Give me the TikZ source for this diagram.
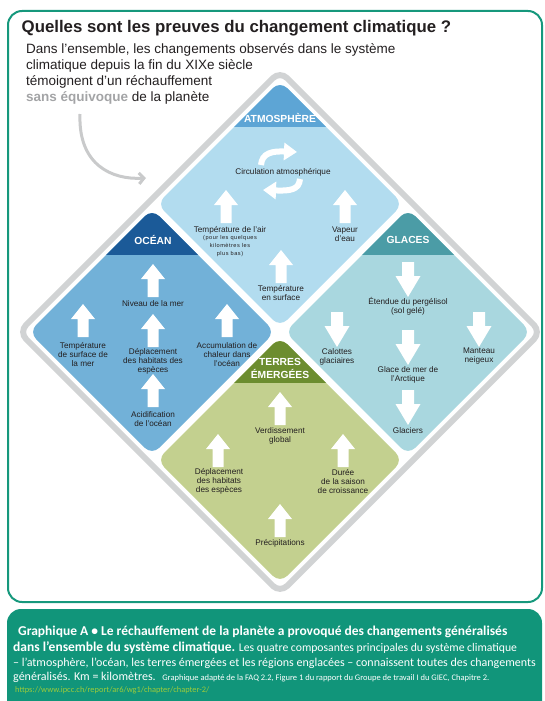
\documentclass[tikz,border=0pt]{standalone}
\usepackage{fontspec}
\setmainfont{Liberation Sans}
\newfontfamily\capfont{Carlito}
\newfontfamily\spacedfont[LetterSpace=9]{Liberation Sans}
\usetikzlibrary{arrows.meta}
\definecolor{frame}{HTML}{16987C}
\definecolor{capfill}{HTML}{11957A}
\definecolor{atmB}{HTML}{B2DCEF}
\definecolor{atmH}{HTML}{5DA5D5}
\definecolor{ocnB}{HTML}{72B1D8}
\definecolor{ocnH}{HTML}{1B5A98}
\definecolor{glaB}{HTML}{A9D7DF}
\definecolor{glaH}{HTML}{4B9CA6}
\definecolor{terB}{HTML}{C3D08F}
\definecolor{terH}{HTML}{6C8D2F}
\definecolor{greyband}{HTML}{D1D3D4}
\definecolor{greyarrow}{HTML}{C9CACB}
\definecolor{greytxt}{HTML}{A3A4A6}
\definecolor{txt}{HTML}{231F20}
\definecolor{urlc}{HTML}{9CCB3B}
\tikzset{
  lbl/.style={font=\fontsize{8.2}{9}\selectfont, text=txt, align=center, inner sep=0pt},
  tiny/.style={font=\spacedfont\fontsize{5.6}{8}\selectfont, text=txt, align=center, inner sep=0pt},
  hdr/.style={font=\bfseries\fontsize{10.3}{13}\selectfont, text=white, align=center, inner sep=0pt},
  capline/.style={font=\capfont\fontsize{12}{14}\selectfont, text=white, anchor=west, inner sep=0pt},
  subline/.style={font=\fontsize{13.5}{16}\selectfont, text=txt, anchor=west, inner sep=0pt},
  uparr/.pic={\fill[white] (-5.5,0) -- (-5.5,-18) -- (-12,-18) -- (0,-33) -- (12,-18) -- (5.5,-18) -- (5.5,0) -- cycle;},
  downarr/.pic={\fill[white] (-6,0) -- (-6,14) -- (-12.5,14) -- (0,35) -- (12.5,14) -- (6,14) -- (6,0) -- cycle;},
}
\begin{document}
\begin{tikzpicture}[x=1pt,y=-1pt]
\useasboundingbox (0,0) rectangle (544,701);
\clip (0,0) rectangle (544,701);
% frame
\draw[frame, line width=2pt, rounded corners=14pt] (8,11) rectangle (542,602);
\fill[capfill, rounded corners=14pt] (7,609) rectangle (542,730);
% title and subtitle
\node[anchor=west, inner sep=0pt, font=\bfseries\fontsize{16.8}{19}\selectfont, text=txt] (title) at (21.5,28) {Quelles sont les preuves du changement climatique ?};
\node[subline] (s1) at (26,50) {Dans l'ensemble, les changements observés dans le système};
\node[subline] (s2) at (26,66) {climatique depuis la fin du XIXe siècle};
\node[subline] (s3) at (26,82) {témoignent d'un réchauffement};
\node[subline] (s4) at (26,98) {{\bfseries\color{greytxt}sans équivoque} de la planète};
% grey outline
\draw[greyband, line width=6pt, rounded corners=10pt] (280,71) -- (541,332) -- (280,593) -- (19,332) -- cycle;
% curved grey arrow
\coordinate (ga1) at (80,114);
\coordinate (ga2) at (146,178);
\draw[greyarrow, line width=3pt, -{Straight Barb[length=5pt,width=11pt]}] (ga1) .. controls (78,165) and (112,180) .. (ga2);
% Atmosphere
\begin{scope}
\clip[rounded corners=10pt] (280,81) -- (403,204) -- (280,327) -- (157,204) -- cycle;
\fill[atmB] (150,75) rectangle (410,330);
\fill[atmH] (150,75) rectangle (410,127);
\end{scope}
% Ocean
\begin{scope}
\clip[rounded corners=10pt] (152,209) -- (275,332) -- (152,455) -- (29,332) -- cycle;
\fill[ocnB] (20,200) rectangle (280,460);
\fill[ocnH] (20,200) rectangle (280,255);
\end{scope}
% Glaces
\begin{scope}
\clip[rounded corners=10pt] (408,209) -- (531,332) -- (408,455) -- (285,332) -- cycle;
\fill[glaB] (280,200) rectangle (540,460);
\fill[glaH] (280,200) rectangle (540,255);
\end{scope}
% Terres
\begin{scope}
\clip[rounded corners=10pt] (280,337) -- (403,460) -- (280,583) -- (157,460) -- cycle;
\fill[terB] (150,330) rectangle (410,590);
\fill[terH] (150,330) rectangle (410,383);
\end{scope}
% headers
\node[hdr] (hatm) at (280,118) {ATMOSPHÈRE};
\node[hdr] (hocn) at (153,240) {OCÉAN};
\node[hdr] (hgla) at (408,240) {GLACES};
\node[hdr] (hter) at (280,368.5) {TERRES\\ÉMERGÉES};
% atmosphere content
\draw[white, line width=6pt, -{Triangle[width=17pt,length=13pt]}] (261,165) .. controls (262,153) and (272,151) .. (297,152);
\draw[white, line width=6pt, -{Triangle[width=17pt,length=13pt]}] (300,179) .. controls (299,190) and (290,191) .. (263,190);
\node[lbl] (circ) at (283,172) {Circulation atmosphérique};
\pic at (226,223) {uparr};
\pic at (345,223) {uparr};
\pic at (281,283) {uparr};
\node[lbl] (tair) at (230,230) {Température de l'air};
\node[tiny] (tair2) at (230,246) {(pour les quelques\\kilomètres les\\plus bas)};
\node[lbl] (vap) at (345,234.5) {Vapeur\\d'eau};
\node[lbl] (tsurf) at (281,293.5) {Température\\en surface};
% ocean content
\pic at (153,297) {uparr};
\pic at (83,337) {uparr};
\pic at (153,347) {uparr};
\pic at (227,337) {uparr};
\pic at (153,407) {uparr};
\node[lbl] (niv) at (153,304) {Niveau de la mer};
\node[lbl] (tsm) at (83,355) {Température\\de surface de\\la mer};
\node[lbl] (dep1) at (153,361) {Déplacement\\des habitats des\\espèces};
\node[lbl] (acc) at (227,355) {Accumulation de\\chaleur dans\\l'océan};
\node[lbl] (acid) at (153,419.5) {Acidification\\de l'océan};
% glaces content
\pic at (408,262) {downarr};
\pic at (337,312) {downarr};
\pic at (479,312) {downarr};
\pic at (408,330) {downarr};
\pic at (408,390) {downarr};
\node[lbl] (perg) at (408,306) {Étendue du pergélisol\\(sol gelé)};
\node[lbl] (calo) at (337,356.5) {Calottes\\glaciaires};
\node[lbl] (mant) at (479,356.5) {Manteau\\neigeux};
\node[lbl] (gmer) at (408,374.5) {Glace de mer de\\l'Arctique};
\node[lbl] (glac) at (408,431) {Glaciers};
% terres content
\pic at (280,425) {uparr};
\pic at (218,467) {uparr};
\pic at (343,467) {uparr};
\pic at (280,537) {uparr};
\node[lbl] (verd) at (280,435.5) {Verdissement\\global};
\node[lbl] (dep2) at (219,481.5) {Déplacement\\des habitats\\des espèces};
\node[lbl] (dur) at (343,482) {Durée\\de la saison\\de croissance};
\node[lbl] (prec) at (280,543) {Précipitations};
% caption
\node[capline, font=\capfont\bfseries\fontsize{13.5}{15}\selectfont] (c1) at (18,632) {Graphique A • Le réchauffement de la planète a provoqué des changements généralisés};
\node[capline] (c2) at (13,648) {{\bfseries\fontsize{13.5}{15}\selectfont dans l’ensemble du système climatique.} {\fontsize{11.7}{14}\selectfont Les quatre composantes principales du système climatique}};
\node[capline] (c3) at (13,663) {– l’atmosphère, l’océan, les terres émergées et les régions englacées – connaissent toutes des changements};
\node[capline] (c4) at (13,677) {généralisés. Km = kilomètres.\hspace{3pt} {\fontsize{8.5}{9}\selectfont Graphique adapté de la FAQ 2.2, Figure 1 du rapport du Groupe de travail I du GIEC, Chapitre 2.}};
\node[capline, font=\capfont\fontsize{8.4}{9}\selectfont, text=urlc] (c5) at (15,690) {https://www.ipcc.ch/report/ar6/wg1/chapter/chapter-2/};
\end{tikzpicture}
\end{document}
